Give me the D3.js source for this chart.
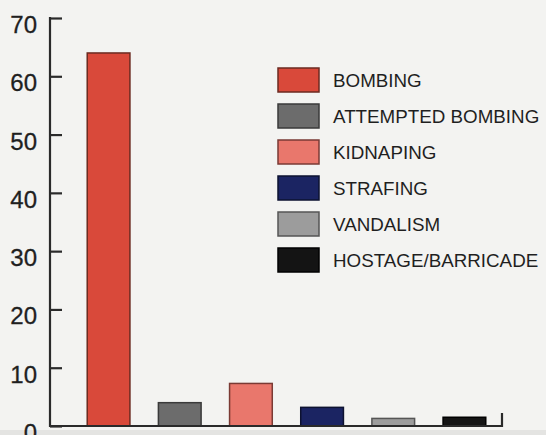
<!DOCTYPE html>
<html>
<head>
<meta charset="utf-8">
<script src="https://cdn.jsdelivr.net/npm/d3@7"></script>
<style>
  body { margin: 0; background: #f3f3f1; }
  #chart text { font-family: "Liberation Sans", Arial, Helvetica, sans-serif; fill: #1f1f1f; }
</style>
</head>
<body>
<div id="chart"></div>
<script>
var categories = ["BOMBING", "ATTEMPTED BOMBING", "KIDNAPING", "STRAFING", "VANDALISM", "HOSTAGE/BARRICADE"];
var incidents = [64, 4, 7.3, 3.2, 1.3, 1.5];
var colors = ["#d9493a", "#6c6c6c", "#e9776c", "#1b2462", "#9c9c9c", "#141414"];
var strokes = ["#6b2a20", "#3a3a3a", "#7a3a34", "#0d1230", "#555555", "#000000"];
var yTicks = [0, 10, 20, 30, 40, 50, 60, 70];

var width = 546, height = 435;

var svg = d3.select("#chart").append("svg")
    .attr("width", width)
    .attr("height", height);

svg.append("rect")
    .attr("width", width)
    .attr("height", height)
    .attr("fill", "#f3f3f1");

// slightly darker strip at the page edge
svg.append("rect")
    .attr("y", 430)
    .attr("width", width)
    .attr("height", 5)
    .attr("fill", "#e4e4e2");

var x = d3.scaleBand()
    .domain(categories)
    .range([73, 500])
    .paddingInner(0.4)
    .paddingOuter(0.2);

var y = d3.scaleLinear()
    .domain([0, 70])
    .range([426, 18]);

// y axis: ticks pointing inward, labels sitting a bit below each tick
var yAxis = d3.axisRight(y)
    .tickValues(yTicks)
    .tickSize(12)
    .tickFormat("");

var gy = svg.append("g")
    .attr("class", "y axis")
    .attr("transform", "translate(50,0)")
    .call(yAxis);

gy.select(".domain").remove();
gy.selectAll(".tick line")
    .attr("stroke", "#2a2a2a")
    .attr("stroke-width", 2.2);

svg.append("line")
    .attr("x1", 50).attr("x2", 50)
    .attr("y1", y(70) - 1).attr("y2", y(0) + 1)
    .attr("stroke", "#2a2a2a")
    .attr("stroke-width", 2.2);

svg.selectAll(".ylabel")
    .data(yTicks)
  .enter().append("text")
    .attr("class", "ylabel")
    .attr("x", 37)
    .attr("y", function(d) { return y(d) + 15; })
    .attr("text-anchor", "end")
    .style("font-size", "24px")
    .style("stroke", "#1f1f1f")
    .style("stroke-width", 0.3)
    .text(function(d) { return d; });

// bars
svg.selectAll(".bar")
    .data(incidents)
  .enter().append("rect")
    .attr("class", "bar")
    .attr("x", function(d, i) { return x(categories[i]); })
    .attr("width", x.bandwidth())
    .attr("y", function(d) { return y(d); })
    .attr("height", function(d) { return y(0) - y(d); })
    .attr("fill", function(d, i) { return colors[i]; })
    .attr("stroke", function(d, i) { return strokes[i]; })
    .attr("stroke-width", 1.5);

// x baseline with the little upturn at the right end
svg.append("path")
    .attr("d", "M50," + y(0) + "H502V" + (y(0) - 13))
    .attr("fill", "none")
    .attr("stroke", "#2a2a2a")
    .attr("stroke-width", 2.2);

// legend
var legend = svg.selectAll(".legend")
    .data(categories)
  .enter().append("g")
    .attr("class", "legend")
    .attr("transform", function(d, i) { return "translate(278," + (68 + i * 36) + ")"; });

legend.append("rect")
    .attr("width", 41)
    .attr("height", 24)
    .attr("fill", function(d, i) { return colors[i]; })
    .attr("stroke", function(d, i) { return strokes[i]; })
    .attr("stroke-width", 1.5);

legend.append("text")
    .attr("x", 55)
    .attr("y", 19)
    .style("font-size", "18.8px")
    .text(function(d) { return d; });
</script>
</body>
</html>
